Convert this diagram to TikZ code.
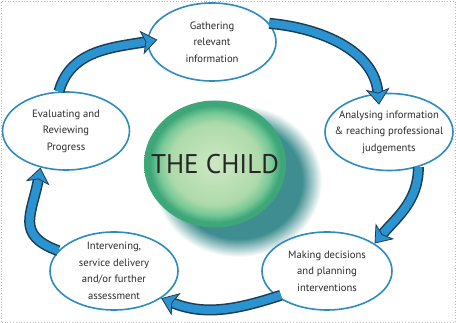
\documentclass[tikz,border=0pt]{standalone}
\usepackage{fontspec}
\setmainfont{PT Sans}
\usetikzlibrary{arrows.meta,shapes.geometric,calc}
\definecolor{ringblue}{HTML}{2E8BC0}
\definecolor{arrblue}{HTML}{2B93CF}
\definecolor{arrdark}{HTML}{1C3C55}
\definecolor{txt}{HTML}{2A2A2A}
\definecolor{cin}{HTML}{CDE8C4}
\definecolor{cmid}{HTML}{AEDAAA}
\definecolor{cring}{HTML}{78C898}
\definecolor{cedge}{HTML}{3EA77A}
\definecolor{shd}{HTML}{3F8D90}
\pgfdeclareradialshading{childshade}{\pgfpoint{0bp}{0bp}}{color(0bp)=(cin); color(16bp)=(cmid); color(20bp)=(cring); color(23bp)=(cedge); color(25bp)=(cedge); color(50bp)=(cedge)}
\pgfdeclareradialshading{shadowshade}{\pgfpoint{0bp}{0bp}}{color(0bp)=(shd); color(19bp)=(shd); color(25bp)=(white); color(50bp)=(white)}
\begin{document}
\begin{tikzpicture}[x=1pt,y=1pt,
  stage/.style={ellipse, draw=ringblue, line width=1.6pt, fill=white,
    minimum width=128pt, minimum height=78pt, inner sep=-30pt, align=center,
    font=\fontsize{10.6}{16.5}\selectfont, text=txt},
  flow/.style={line width=8pt, arrblue,
    -{Stealth[length=16pt,width=24pt,inset=4pt,line width=0.8pt,color=arrdark,fill=arrblue]},
    preaction={draw=arrdark, line width=11pt, -, shorten >=12pt}}
]
\useasboundingbox (0,0) rectangle (456,323);
\fill[white] (0,0) rectangle (456,323);
\draw[gray!55, dotted, line width=0.8pt] (1,1) rectangle (455,322);

% shadow of the child
\node[ellipse, minimum width=168pt, minimum height=152pt, inner sep=0pt, shading=shadowshade] (shadow) at (238,142) {};
\node[ellipse, minimum width=142pt, minimum height=127pt, inner sep=-40pt, shading=childshade,
  font=\fontsize{27}{30}\selectfont, text=black!85] (child) at (215,159) {THE CHILD};

\node[stage] (g) at (212,281) {Gathering\\relevant\\information};
\node[stage, minimum width=128pt, minimum height=77pt] (a) at (389,191) {Analysing information\\\& reaching professional\\judgements};
\node[stage, minimum width=127pt] (e) at (66,192) {Evaluating and\\Reviewing\\Progress};
\node[stage] (i) at (114,52) {Intervening,\\service delivery\\and/or further\\assessment};
\node[stage, minimum width=130pt] (m) at (327,52) {Making decisions\\and planning\\interventions};

\draw[flow] (g.18) to[out=-5, in=95] ([shift={(-10,-12)}]a.north);
\draw[flow] (a.-50) to[out=-90, in=50] (m.30);
\draw[flow] ([xshift=6]m.205) to[out=-162, in=-22] (i.-30);
\draw[flow] (i.160) to[out=160, in=-100, looseness=1.4] (e.235);
\draw[flow] (e.100) to[out=75, in=190] ([xshift=10]g.178);
\end{tikzpicture}
\end{document}
